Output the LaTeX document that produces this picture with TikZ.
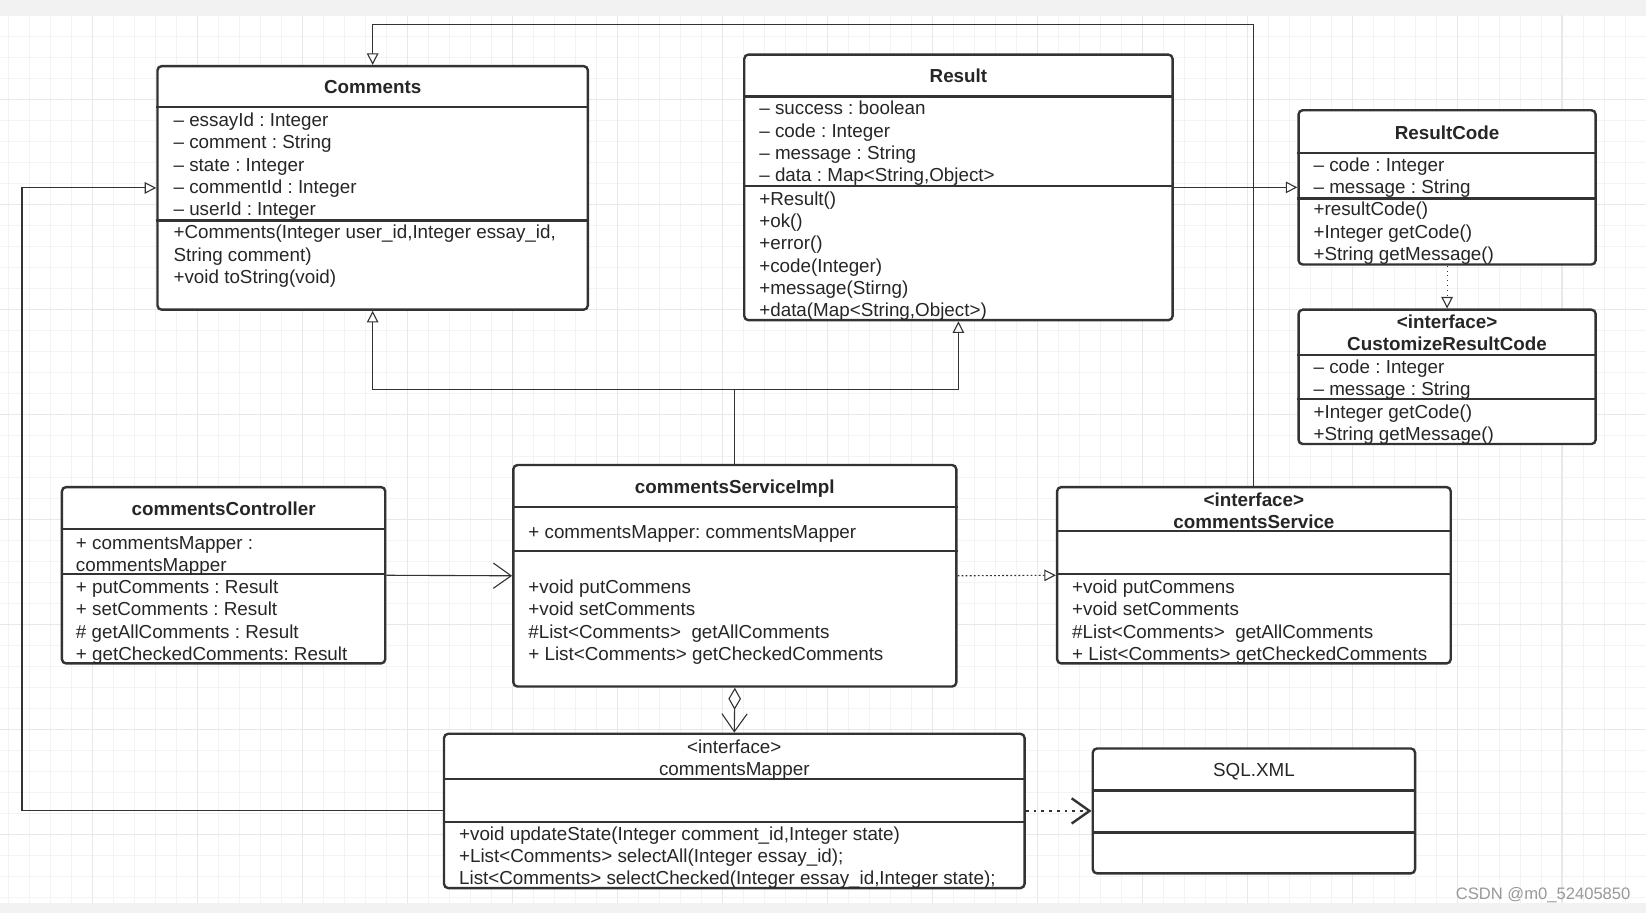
\documentclass[tikz,border=0pt]{standalone}
\usepackage{fontspec}
\setmainfont{Liberation Sans}
\usetikzlibrary{arrows.meta}
\frenchspacing

\definecolor{boxline}{HTML}{333333}
\definecolor{txt}{HTML}{262626}
\definecolor{gridminor}{HTML}{F3F3F3}
\definecolor{gridmajor}{HTML}{E8E8E8}
\definecolor{band}{HTML}{F2F2F2}

% stacked lines whose baseline is the first line
\newcommand{\leftrows}[1]{\begin{tabular}[t]{@{}l@{}}#1\end{tabular}}
\newcommand{\midrows}[1]{\begin{tabular}[t]{@{}c@{}}#1\end{tabular}}

\tikzset{
	classbox/.style={draw=boxline, line width=1.3pt, rounded corners=0.8mm, fill=white, inner sep=0pt},
	divider/.style={draw=boxline, line width=1.3pt},
	members/.style={anchor=base west, inner sep=0pt, text=txt,
		font=\fontsize{10.2pt}{12.1pt}\selectfont},
	classname/.style={anchor=base, inner sep=0pt, text=txt,
		font=\fontsize{10.2pt}{12.1pt}\selectfont\bfseries},
	plainname/.style={classname, font=\fontsize{10.2pt}{12.1pt}\selectfont},
	conn/.style={draw=boxline, line width=0.6pt},
	tri/.style={-{Triangle[open,length=2.2mm,width=2.2mm]}},
	vee/.style={-{Straight Barb[length=3.4mm,width=4.8mm]}},
}

\begin{document}
\begin{tikzpicture}[x=0.2mm, y=-0.2mm]
	% everything is given in pixels of the drawing, y going down
	\def\u{0.2mm}

	\useasboundingbox (0,0) rectangle (1568,870);
	\fill[white] (0,0) rectangle (1568,870);
	\fill[band] (0,0) rectangle (1568,14);
	\fill[band] (0,860) rectangle (1568,870);

	% the paper grid
	\foreach \x in {8,28,...,1568}
		\draw[gridminor, line width=0.5pt] (\x,14) -- (\x,860);
	\foreach \y in {15,35,...,855}
		\draw[gridminor, line width=0.5pt] (0,\y) -- (1568,\y);
	\foreach \x in {88,188,...,1488}
		\draw[gridmajor, line width=0.6pt] (\x,14) -- (\x,860);
	\foreach \y in {95,195,...,795}
		\draw[gridmajor, line width=0.6pt] (0,\y) -- (1568,\y);

	% class boxes
	\node[classbox, minimum width=410*\u, minimum height=232*\u] (comments) at (355,179) {};
	\node[classbox, minimum width=408*\u, minimum height=253*\u] (result) at (913,178.5) {};
	\node[classbox, minimum width=283*\u, minimum height=147*\u] (resultcode) at (1378.5,178.5) {};
	\node[classbox, minimum width=283*\u, minimum height=128*\u] (customcode) at (1378.5,359) {};
	\node[classbox, minimum width=308*\u, minimum height=168*\u] (controller) at (213,548) {};
	\node[classbox, minimum width=422*\u, minimum height=211*\u] (impl) at (700,548.5) {};
	\node[classbox, minimum width=375*\u, minimum height=168*\u] (service) at (1194.5,548) {};
	\node[classbox, minimum width=553*\u, minimum height=147*\u] (mapper) at (699.5,772.5) {};
	\node[classbox, minimum width=307*\u, minimum height=119*\u] (sqlxml) at (1194.5,772.5) {};

	% compartment lines
	\foreach \n/\y in {comments/102, comments/210, result/92, result/177,
		resultcode/146, resultcode/189, customcode/338, customcode/380,
		controller/504, controller/547, impl/483, impl/525,
		service/506, service/547, mapper/742, mapper/783,
		sqlxml/753, sqlxml/793}
		\draw[divider] (\n.west |- 0,\y) -- (\n.east |- 0,\y);

	% names
	\node[classname] (comments-name) at (355,89.5) {Comments};
	\node[classname] (result-name) at (913,78.5) {Result};
	\node[classname] (resultcode-name) at (1378.5,132.5) {ResultCode};
	\node[classname] (customcode-name) at (1378.5,312.5) {\midrows{<interface>\\CustomizeResultCode}};
	\node[classname] (controller-name) at (213,491.5) {commentsController};
	\node[classname] (impl-name) at (700,470.5) {commentsServiceImpl};
	\node[classname] (service-name) at (1194.5,482.5) {\midrows{<interface>\\commentsService}};
	\node[plainname] (mapper-name) at (699.5,717.5) {\midrows{<interface>\\commentsMapper}};
	\node[plainname] (sqlxml-name) at (1194.5,739.5) {SQL.XML};

	% attributes and methods
	\node[members] (comments-attr) at (165,120.5) {\leftrows{– essayId : Integer\\– comment : String\\– state : Integer\\– commentId : Integer\\– userId : Integer}};
	\node[members] (comments-op) at (165,227.5) {\leftrows{+Comments(Integer user\_id,Integer essay\_id,\\String comment)\\+void toString(void)}};

	\node[members] (result-attr) at (723,109.5) {\leftrows{– success : boolean\\– code : Integer\\– message : String\\– data : Map<String,Object>}};
	\node[members] (result-op) at (723,195.5) {\leftrows{+Result()\\+ok()\\+error()\\+code(Integer)\\+message(Stirng)\\+data(Map<String,Object>)}};

	\node[members] (resultcode-attr) at (1251,163.5) {\leftrows{– code : Integer\\– message : String}};
	\node[members] (resultcode-op) at (1251,205.5) {\leftrows{+resultCode()\\+Integer getCode()\\+String getMessage()}};

	\node[members] (customcode-attr) at (1251,355.5) {\leftrows{– code : Integer\\– message : String}};
	\node[members] (customcode-op) at (1251,398.5) {\leftrows{+Integer getCode()\\+String getMessage()}};

	\node[members] (controller-attr) at (72,523.5) {\leftrows{+ commentsMapper :\\commentsMapper}};
	\node[members] (controller-op) at (72,565.5) {\leftrows{+ putComments : Result\\+ setComments : Result\\\# getAllComments : Result\\+ getCheckedComments: Result}};

	\node[members] (impl-attr) at (503,512.5) {+ commentsMapper: commentsMapper};
	\node[members] (impl-op) at (503,565.5) {\leftrows{+void putCommens\\+void setComments\\\#List<Comments>\ \ getAllComments\\+ List<Comments> getCheckedComments}};

	\node[members] (service-op) at (1021,565.5) {\leftrows{+void putCommens\\+void setComments\\\#List<Comments>\ \ getAllComments\\+ List<Comments> getCheckedComments}};

	\node[members] (mapper-op) at (437,800.5) {\leftrows{+void updateState(Integer comment\_id,Integer state)\\+List<Comments> selectAll(Integer essay\_id);\\List<Comments> selectChecked(Integer essay\_id,Integer state);}};

	% connectors
	\draw[conn, tri] (service.north) -- (service.north |- 0,23) -| (comments.north);
	\draw[conn, tri] (mapper.west) -- (mapper.west -| 21,0) |- (comments.west);
	\draw[conn, tri] (result.east) -- (resultcode.west);
	\draw[conn, tri, dotted] (resultcode.south) -- (customcode.north);

	\draw[conn] (impl.north) -- (impl.north |- 0,371) coordinate (split);
	\draw[conn, tri] (split) -| (comments.south);
	\draw[conn, tri] (split) -| (result.south);

	\draw[conn, vee] (controller.east) -- (impl.west);
	\draw[conn, tri, dash pattern=on 1pt off 1.2pt] (impl.east) -- (service.west);
	\draw[conn, {Diamond[open,length=4.2mm,width=2.4mm]}-{Straight Barb[length=3.4mm,width=4.8mm]}] (impl.south) -- (mapper.north);
	\draw[conn, vee, line width=1.3pt, dash pattern=on 1.6pt off 2.6pt] (mapper.east) -- (sqlxml.west);

	\node[text=black!40, inner sep=0pt, font=\fontsize{9pt}{11pt}\selectfont] (mark) at (1470,853) {CSDN @m0\_52405850};
\end{tikzpicture}
\end{document}
